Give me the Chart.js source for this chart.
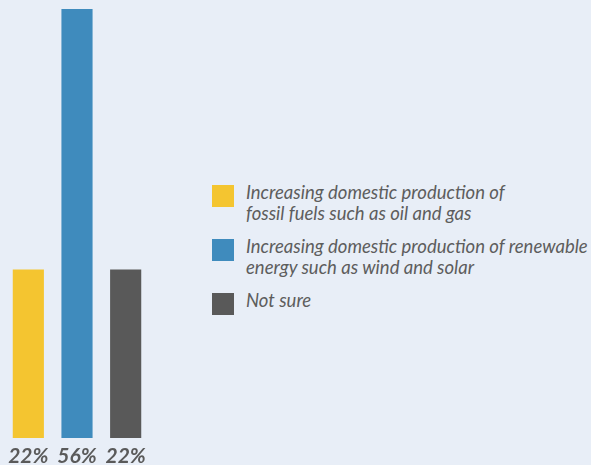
<!DOCTYPE html>
<html>
<head>
<meta charset="utf-8">
<script src="https://cdn.jsdelivr.net/npm/chart.js@4/dist/chart.umd.min.js"></script>
<style>
	body{margin:0;background:#e8eef7;width:591px;height:465px;overflow:hidden;position:relative;font-family:Lato,"Open Sans",sans-serif;}
	#chartBox{position:absolute;left:0;top:0;width:155px;height:465px;}
	#legend{position:absolute;left:212px;top:182px;}
	.item{position:relative;padding-left:34px;font-style:italic;font-size:18.5px;line-height:21px;color:#5d5d5d;margin-bottom:12px;white-space:nowrap;}
	.box{position:absolute;left:0;top:3px;width:22px;height:22px;}
</style>
</head>
<body>
<div id="chartBox"><canvas id="answers"></canvas></div>
<div id="legend"></div>
<script>
//응답 항목 (줄바꿈은 범례에서 그대로 사용)
var categories = [
	['Increasing domestic production of', 'fossil fuels such as oil and gas'],
	['Increasing domestic production of renewable', 'energy such as wind and solar'],
	['Not sure']
];
var values = [22, 56, 22]; //퍼센트
var barColors = ['#f4c530', '#3f8bbd', '#595959'];

//범례 그리기
function drawLegend(){
	var legend = document.getElementById('legend');
	categories.forEach(function(lines, i){
		var item = document.createElement('div');
		item.className = 'item';
		var box = document.createElement('span');
		box.className = 'box';
		box.style.background = barColors[i];
		item.appendChild(box);
		item.innerHTML += lines.join('<br>');
		legend.appendChild(item);
	});
}

//막대 아래 퍼센트 라벨
var percentLabels = {
	id: 'percentLabels',
	afterDatasetsDraw: function(chart){
		var c = chart.ctx;
		var xScale = chart.scales.x;
		c.save();
		c.font = 'italic bold 21px Lato';
		c.fillStyle = '#5a5a5a';
		c.textAlign = 'center';
		c.textBaseline = 'alphabetic';
		values.forEach(function(v, i){
			c.fillText(v + '%', xScale.getPixelForValue(i), chart.chartArea.bottom + 25);
		});
		c.restore();
	}
};

//막대 그래프
function drawBars(){
	var ctx = document.getElementById('answers');
	new Chart(ctx, {
		type: 'bar',
		data: {
			labels: categories.map(function(c){ return c.join(' '); }),
			datasets: [{
				data: values,
				backgroundColor: barColors,
				barPercentage: 0.64,
				categoryPercentage: 1
			}]
		},
		plugins: [percentLabels],
		options: {
			responsive: true,
			maintainAspectRatio: false,
			animation: false,
			layout: {padding: {left: 4, right: 5, top: 9, bottom: 27}},
			plugins: {legend: {display: false}, tooltip: {enabled: false}},
			scales: {
				x: {display: false},
				y: {display: false, min: 0, max: 56}
			}
		}
	});
}

drawLegend();
drawBars();
</script>
</body>
</html>
